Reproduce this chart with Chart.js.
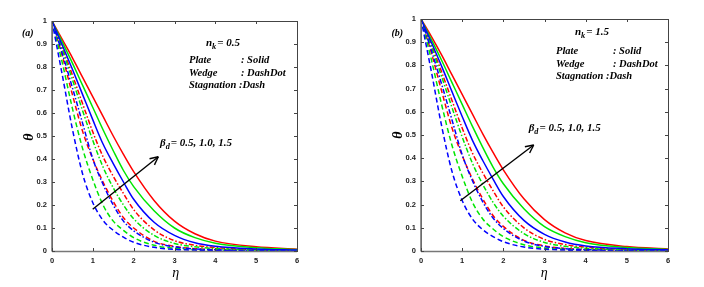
<!DOCTYPE html>
<html>
<head>
<meta charset="utf-8">
<script src="https://cdn.jsdelivr.net/npm/chart.js@4.4.1/dist/chart.umd.min.js"></script>
<style>
  html, body { margin: 0; padding: 0; background: #fff; }
  #wrap { position: relative; width: 704px; height: 287px; overflow: hidden; }
  .panel { position: absolute; top: 0; width: 352px; height: 287px; }
</style>
</head>
<body>
<div id="wrap">
  <div class="panel" style="left:0"><canvas id="chartA" width="352" height="287"></canvas></div>
  <div class="panel" style="left:352px"><canvas id="chartB" width="352" height="287"></canvas></div>
</div>
<script>
// eta grid shared by every curve
const eta = [0, 0.25, 0.5, 0.75, 1, 1.25, 1.5, 1.75, 2, 2.5, 3, 3.5, 4, 5, 6];
const betaD = ['0.5', '1.0', '1.5'];
const xTicks = [0, 1, 2, 3, 4, 5, 6];
const yTicks = [0, 0.1, 0.2, 0.3, 0.4, 0.5, 0.6, 0.7, 0.8, 0.9, 1];

// (a) n_k = 0.5
const plateA05 = [1, 0.896, 0.79, 0.68, 0.57, 0.465, 0.38, 0.30, 0.225, 0.125, 0.068, 0.036, 0.021, 0.009, 0.004];
const plateA10 = [1, 0.909, 0.817, 0.72, 0.624, 0.527, 0.436, 0.35, 0.28, 0.175, 0.1, 0.058, 0.034, 0.014, 0.006];
const plateA15 = [1, 0.92, 0.84, 0.755, 0.67, 0.585, 0.5, 0.42, 0.345, 0.22, 0.13, 0.075, 0.043, 0.018, 0.008];
const wedgeA05 = [1, 0.86, 0.71, 0.555, 0.40, 0.29, 0.2, 0.13, 0.088, 0.038, 0.018, 0.009, 0.005, 0.002, 0.001];
const wedgeA10 = [1, 0.877, 0.745, 0.61, 0.48, 0.365, 0.275, 0.2, 0.14, 0.068, 0.033, 0.018, 0.011, 0.004, 0.002];
const wedgeA15 = [1, 0.885, 0.765, 0.64, 0.517, 0.41, 0.325, 0.25, 0.18, 0.092, 0.045, 0.025, 0.015, 0.006, 0.003];
const stagA05 = [1, 0.767, 0.53, 0.335, 0.21, 0.133, 0.09, 0.06, 0.038, 0.016, 0.007, 0.004, 0.002, 0.001, 0];
const stagA10 = [1, 0.82, 0.62, 0.445, 0.31, 0.2, 0.13, 0.09, 0.058, 0.025, 0.012, 0.006, 0.004, 0.002, 0.001];
const stagA15 = [1, 0.85, 0.68, 0.52, 0.40, 0.30, 0.215, 0.145, 0.1, 0.042, 0.02, 0.01, 0.006, 0.003, 0.001];

// (b) n_k = 1.5
const plateB05 = [1, 0.9, 0.797, 0.688, 0.58, 0.477, 0.39, 0.31, 0.235, 0.132, 0.072, 0.039, 0.022, 0.01, 0.005];
const plateB10 = [1, 0.912, 0.822, 0.727, 0.632, 0.537, 0.447, 0.362, 0.29, 0.182, 0.105, 0.062, 0.036, 0.015, 0.007];
const plateB15 = [1, 0.925, 0.845, 0.76, 0.675, 0.59, 0.505, 0.425, 0.35, 0.225, 0.135, 0.078, 0.045, 0.019, 0.009];
const wedgeB05 = [1, 0.866, 0.72, 0.567, 0.415, 0.303, 0.212, 0.142, 0.097, 0.043, 0.02, 0.01, 0.006, 0.002, 0.001];
const wedgeB10 = [1, 0.882, 0.752, 0.62, 0.492, 0.378, 0.287, 0.21, 0.15, 0.075, 0.037, 0.02, 0.012, 0.005, 0.002];
const wedgeB15 = [1, 0.89, 0.772, 0.65, 0.53, 0.422, 0.337, 0.26, 0.19, 0.1, 0.05, 0.028, 0.016, 0.007, 0.003];
const stagB05 = [1, 0.775, 0.54, 0.345, 0.218, 0.138, 0.092, 0.062, 0.04, 0.017, 0.008, 0.004, 0.002, 0.001, 0];
const stagB10 = [1, 0.826, 0.632, 0.457, 0.322, 0.21, 0.138, 0.095, 0.062, 0.027, 0.013, 0.007, 0.004, 0.002, 0.001];
const stagB15 = [1, 0.855, 0.69, 0.532, 0.412, 0.31, 0.225, 0.153, 0.106, 0.046, 0.022, 0.011, 0.006, 0.003, 0.001];

const colors = ['#0000ff', '#00e600', '#ff0000'];
const dashes = {plate: [], wedge: [5, 2, 1.5, 2], stag: [5, 3]};
const serif = '"Liberation Serif", "Times New Roman", serif';

function curve(values, color, dash) {
    return {
        data: values.map((v, i) => ({x: eta[i], y: v})),
        borderColor: color,
        borderWidth: 1.5,
        borderDash: dash,
        pointRadius: 0,
        fill: false,
        cubicInterpolationMode: 'monotone'
    };
}

function line(ctx, x1, y1, x2, y2) {
    ctx.beginPath();
    ctx.moveTo(x1, y1);
    ctx.lineTo(x2, y2);
    ctx.stroke();
}

// box round the plot with inward ticks on all four sides
const frame = {
    id: 'frame',
    afterDraw(chart) {
        const {ctx, chartArea: a, scales: {x, y}} = chart;
        ctx.save();
        ctx.strokeStyle = '#444';
        ctx.lineWidth = 1;
        ctx.strokeRect(a.left + 0.5, a.top + 0.5, a.right - a.left, a.bottom - a.top);
        ctx.strokeStyle = '#777';
        ctx.lineWidth = 1.6;
        line(ctx, a.left, a.top, a.left, a.bottom + 0.5);
        line(ctx, a.left, a.bottom + 0.5, a.right, a.bottom + 0.5);
        ctx.strokeStyle = '#444';
        ctx.lineWidth = 1;
        xTicks.forEach(t => {
            const px = Math.round(x.getPixelForValue(t)) + 0.5;
            line(ctx, px, a.bottom, px, a.bottom - 3);
            line(ctx, px, a.top, px, a.top + 3);
        });
        yTicks.forEach(t => {
            const py = Math.round(y.getPixelForValue(t)) + 0.5;
            line(ctx, a.left, py, a.left + 3, py);
            line(ctx, a.right, py, a.right - 3, py);
        });
        ctx.restore();
    }
};

function subText(ctx, x, y, main, s, rest, size) {
    ctx.font = `bold italic ${size}px ${serif}`;
    ctx.fillText(main, x, y);
    x += ctx.measureText(main).width;
    ctx.font = `bold italic ${size * 0.75}px ${serif}`;
    ctx.fillText(s, x, y + size * 0.32);
    x += ctx.measureText(s).width + 1;
    ctx.font = `bold italic ${size}px ${serif}`;
    ctx.fillText(rest, x, y);
}

// panel label, legend text, beta arrow, axis titles
const notes = {
    id: 'notes',
    afterDraw(chart, args, o) {
        const ctx = chart.ctx;
        ctx.save();
        ctx.fillStyle = '#000';
        ctx.textBaseline = 'middle';
        ctx.textAlign = 'left';
        ctx.font = `bold italic 10px ${serif}`;
        ctx.fillText(o.label, o.labelAt[0], o.labelAt[1]);

        subText(ctx, o.nkAt[0], o.nkAt[1], 'n', 'k', '= ' + o.nk, 11);

        ctx.font = `bold italic 10.5px ${serif}`;
        ctx.fillText('Plate', o.keyX, o.keyY[0]);
        ctx.fillText(': Solid', o.colX, o.keyY[0]);
        ctx.fillText('Wedge', o.keyX, o.keyY[1]);
        ctx.fillText(': DashDot', o.colX, o.keyY[1]);
        ctx.fillText('Stagnation :Dash', o.keyX, o.keyY[2]);

        subText(ctx, o.betaAt[0], o.betaAt[1], 'β', 'd', '= ' + betaD.join(', '), 11);

        const [p, q] = o.arrow;
        ctx.strokeStyle = '#000';
        ctx.lineWidth = 1.4;
        line(ctx, p[0], p[1], q[0], q[1]);
        const ang = Math.atan2(q[1] - p[1], q[0] - p[0]);
        [0.45, -0.45].forEach(d => {
            line(ctx, q[0], q[1], q[0] - 9 * Math.cos(ang + d), q[1] - 9 * Math.sin(ang + d));
        });

        ctx.textAlign = 'center';
        ctx.font = `italic 14px ${serif}`;
        ctx.fillText('η', o.etaAt[0], o.etaAt[1]);
        ctx.translate(o.thetaAt[0], o.thetaAt[1]);
        ctx.rotate(-Math.PI / 2);
        ctx.font = `bold italic 14px ${serif}`;
        ctx.fillText('θ', 0, 0);
        ctx.restore();
    }
};

function makeChart(id, sets, area, note) {
    const [left, right, top, bottom] = area;
    return new Chart(document.getElementById(id).getContext('2d'), {
        type: 'line',
        data: {
            datasets: [
                curve(sets.plate[0], colors[0], dashes.plate),
                curve(sets.plate[1], colors[1], dashes.plate),
                curve(sets.plate[2], colors[2], dashes.plate),
                curve(sets.wedge[0], colors[0], dashes.wedge),
                curve(sets.wedge[1], colors[1], dashes.wedge),
                curve(sets.wedge[2], colors[2], dashes.wedge),
                curve(sets.stag[0], colors[0], dashes.stag),
                curve(sets.stag[1], colors[1], dashes.stag),
                curve(sets.stag[2], colors[2], dashes.stag)
            ]
        },
        options: {
            responsive: false,
            animation: false,
            devicePixelRatio: 1,
            layout: {padding: {left: 0, right: 352 - right, top: top, bottom: 287 - bottom - 20}},
            plugins: {legend: {display: false}, tooltip: {enabled: false}, notes: note},
            scales: {
                x: {
                    type: 'linear', min: 0, max: 6,
                    afterFit: s => { s.height = 20; },
                    grid: {display: false, drawTicks: false},
                    border: {display: false},
                    ticks: {stepSize: 1, padding: 5, maxRotation: 0, color: '#222',
                        font: {family: '"Liberation Sans", Arial', size: 7.5, weight: 'bold'}}
                },
                y: {
                    min: 0, max: 1,
                    afterFit: s => { s.width = left; },
                    grid: {display: false, drawTicks: false},
                    border: {display: false},
                    ticks: {stepSize: 0.1, padding: 5, color: '#222',
                        font: {family: '"Liberation Sans", Arial', size: 7.5, weight: 'bold'},
                        callback: v => String(+v.toFixed(1))}
                }
            }
        },
        plugins: [frame, notes]
    });
}

const chartA = makeChart('chartA',
    {plate: [plateA05, plateA10, plateA15], wedge: [wedgeA05, wedgeA10, wedgeA15], stag: [stagA05, stagA10, stagA15]},
    [52, 297, 21, 251],
    {label: '(a)', labelAt: [22, 33], nk: '0.5', nkAt: [206, 43], keyX: 189, colX: 241, keyY: [60.5, 73, 85.5],
     betaAt: [160, 143], arrow: [[92.7, 209.3], [158.3, 156.7]], etaAt: [175.7, 273], thetaAt: [29.5, 137]});

const chartB = makeChart('chartB',
    {plate: [plateB05, plateB10, plateB15], wedge: [wedgeB05, wedgeB10, wedgeB15], stag: [stagB05, stagB10, stagB15]},
    [69, 316, 19, 251],
    {label: '(b)', labelAt: [39.5, 33], nk: '1.5', nkAt: [223, 32], keyX: 204, colX: 261, keyY: [51.5, 64, 76.5],
     betaAt: [176.7, 128], arrow: [[108.3, 200.7], [181.7, 145]], etaAt: [192.3, 273], thetaAt: [46.7, 135]});
</script>
</body></html>
